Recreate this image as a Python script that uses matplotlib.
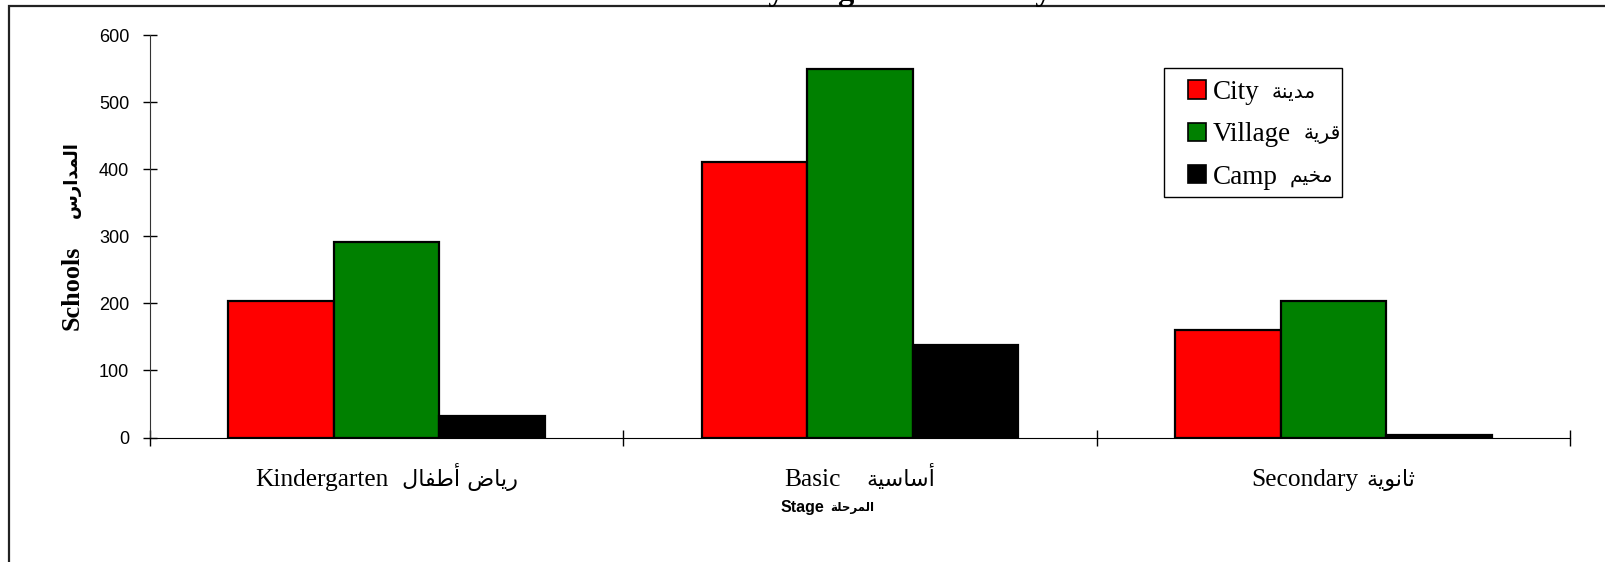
import matplotlib
matplotlib.use('Agg')
from matplotlib import pyplot as plt
from matplotlib.patches import Patch, Rectangle
from matplotlib.transforms import offset_copy
import numpy as np

# data ===============================
stage_en = ['Kindergarten', 'Basic', 'Secondary']
stage_ar = ['رياض أطفال', 'أساسية', 'ثانوية']
city = [204, 410, 161]
village = [292, 549, 203]
camp = [32, 138, 4]
series_en = ['City', 'Village', 'Camp']
series_ar = ['مدينة', 'قرية', 'مخيم']
colors = ['#ff0000', '#008000', '#000000']
yticks = [0, 100, 200, 300, 400, 500, 600]
# ====================================

# matplotlib does no arabic shaping, so pick the contextual forms by hand
DUAL = {'ث': 0xFE99, 'ح': 0xFEA1, 'خ': 0xFEA5, 'س': 0xFEB1, 'ض': 0xFEBD,
        'ط': 0xFEC1, 'ف': 0xFED1, 'ق': 0xFED5, 'ل': 0xFEDD, 'م': 0xFEE1,
        'ن': 0xFEE5, 'ي': 0xFEF1}
RIGHT = {'ا': 0xFE8D, 'أ': 0xFE83, 'د': 0xFEA9, 'ر': 0xFEAD, 'و': 0xFEED,
         'ة': 0xFE93}


def arabic(text):
    out = []
    for i, ch in enumerate(text):
        base = DUAL.get(ch, RIGHT.get(ch))
        if base is None:
            out.append(ch)
            continue
        prev = text[i - 1] if i > 0 else ''
        nxt = text[i + 1] if i + 1 < len(text) else ''
        join_prev = prev in DUAL
        join_next = ch in DUAL and (nxt in DUAL or nxt in RIGHT)
        out.append(chr(base + join_prev + 2 * join_next))
    return ''.join(reversed(out))


W, H = 1606, 562
TIMES = 'Liberation Serif'
ARIAL = 'Liberation Sans'
AR = 'DejaVu Sans'

fig = plt.figure(figsize=(W / 100, H / 100), dpi=100)
ax = fig.add_axes([0.0934, 0.2215, 0.8842, 0.7162])

# outer chart frame (cut off on the right and bottom)
fig.patches.append(Rectangle((9 / W, -0.1), 1.2, 1 - 6 / H + 0.1,
                             transform=fig.transFigure, fill=False,
                             edgecolor='#222222', linewidth=1.6))

x = np.arange(len(stage_en)) + 0.5
w = 0.223
for k, vals in enumerate([city, village, camp]):
    ax.bar(x + (k - 1) * w, vals, w, color=colors[k], edgecolor='black',
           linewidth=1.6, zorder=3)

ax.set_xlim(0, 3)
ax.set_ylim(0, 600)
ax.set_yticks(yticks)
ax.set_xticks([0, 1, 2, 3])
ax.set_xticklabels([])
ax.tick_params(axis='x', which='major', direction='inout', length=12, width=1)
ax.tick_params(axis='y', direction='inout', length=10, width=1, pad=10,
               labelsize=13)
for t in ax.get_yticklabels():
    t.set_family(ARIAL)

for s in ['top', 'right']:
    ax.spines[s].set_visible(False)
ax.spines['left'].set_color('#333333')

# axis titles
fig.text(72 / W, 1 - 288 / H, 'Schools', family=TIMES,
         fontweight='bold', fontsize=18.8, rotation=90, ha='center', va='center')
fig.text(72 / W, 1 - 180 / H, arabic('المدارس'), family=AR,
         fontweight='bold', fontsize=13, rotation=90, ha='center', va='center')
fig.text(824 / W, 1 - 512 / H, 'Stage', family=ARIAL,
         fontweight='bold', fontsize=11.5, ha='right', va='baseline')
fig.text(830 / W, 1 - 511 / H, arabic('المرحلة'), family=AR,
         fontweight='bold', fontsize=8.5, ha='left', va='baseline')

fig.text(0.5255, 1.0, 'Schools by Stage and Locality', family=TIMES,
         fontweight='bold', fontsize=23.5, ha='center', va='baseline')

# legend, with its frame drawn separately
fig.patches.append(Rectangle((1164 / W, 1 - 196.5 / H), 178 / W, 129 / H,
                             transform=fig.transFigure, fill=False,
                             edgecolor='black', linewidth=1.0))
handles = [Patch(facecolor=c, edgecolor='black', linewidth=1.2) for c in colors]
leg = ax.legend(handles, series_en, loc='upper left',
                bbox_to_anchor=(1188 / W, 1 - 80 / H),
                bbox_transform=fig.transFigure, prop={'family': TIMES, 'size': 19.5},
                frameon=False, borderaxespad=0, borderpad=0,
                handlelength=0.68, handleheight=0.68, handletextpad=0.25,
                labelspacing=0.64)

# category labels: english then arabic on one baseline, centred as a pair
base = ax.get_xaxis_transform()
pairs = []
for xi, e, a in zip(x, stage_en, stage_ar):
    te = ax.text(xi, -0.1205, e, transform=base, ha='right', va='baseline',
                 family=TIMES, fontsize=18.3)
    ta = ax.text(xi, -0.1205, arabic(a), transform=base, ha='left',
                 va='baseline', family=AR, fontsize=16)
    pairs.append((te, ta))

fig.canvas.draw()
r = fig.canvas.get_renderer()
gaps = [14, 26, 8]
for (te, ta), g in zip(pairs, gaps):
    we = te.get_window_extent(r).width
    wa = ta.get_window_extent(r).width
    s = (we - wa - g) / 2
    te.set_transform(offset_copy(base, fig=fig, x=s, units='dots'))
    ta.set_transform(offset_copy(base, fig=fig, x=s + g, units='dots'))

# arabic names follow the english ones in the legend, in a smaller size
for t, a in zip(leg.get_texts(), series_ar):
    bb = t.get_window_extent(r)
    fig.text((bb.x1 + 12) / W, (bb.y0 + bb.y1) / 2 / H, arabic(a), family=AR,
             fontsize=14.5, ha='left', va='center')

fig.savefig('out.png', dpi=100)
